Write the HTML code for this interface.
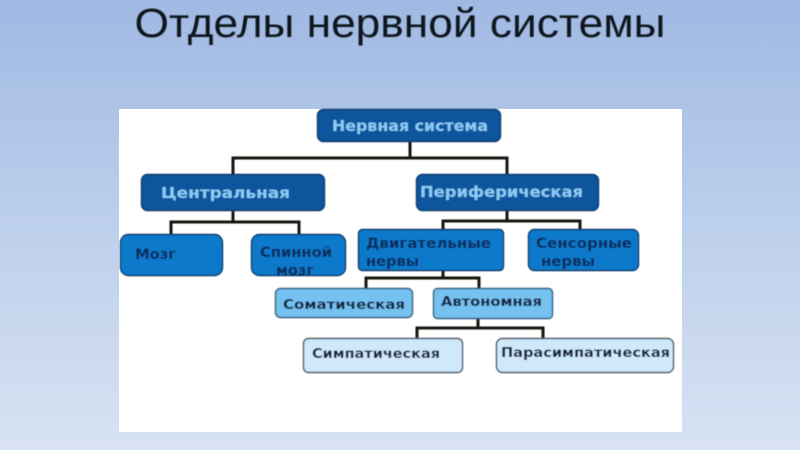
<!DOCTYPE html>
<html lang="ru">
<head>
<meta charset="utf-8">
<style>
html,body{margin:0;padding:0;width:800px;height:450px;overflow:hidden;background:#a4bbe4}
svg{display:block}
text{font-family:"DejaVu Sans","Liberation Sans",sans-serif;font-weight:bold}
</style>
</head>
<body>
<svg width="800" height="450" viewBox="0 0 800 450" xmlns="http://www.w3.org/2000/svg">
<defs>
<linearGradient id="bg" x1="0" y1="0" x2="0" y2="1">
<stop offset="0" stop-color="#a0b9e3"/>
<stop offset="0.5" stop-color="#bccfec"/>
<stop offset="1" stop-color="#d8e2f2"/>
</linearGradient>
<filter id="soft" x="-2%" y="-2%" width="104%" height="104%"><feGaussianBlur stdDeviation="0.55"/></filter>
</defs>
<rect width="800" height="450" fill="url(#bg)"/>
<text x="400" y="37" text-anchor="middle" textLength="531" lengthAdjust="spacingAndGlyphs" filter="url(#soft)" style="font-family:'Liberation Sans',sans-serif;font-weight:normal;font-size:41px" fill="#10131c">Отделы нервной системы</text>
<rect x="119" y="109" width="563" height="323" fill="#fff"/>

<g filter="url(#soft)">
<g fill="none" stroke="#15120f" stroke-width="3">
<path d="M410 142V158M233 174V158H507V174"/>
<path d="M233 211V222M171 234V222H299V234"/>
<path d="M507 211V221M443 229V221H580V229"/>
<path d="M443 271V278M366 288V278H479V288"/>
<path d="M478 319V328M417 338V328H543V338"/>
</g>

<g stroke="#0e3c6e" stroke-width="1.4">
<rect x="317.5" y="109.5" width="183" height="32" rx="6" fill="#0b559c"/>
<rect x="141.5" y="174.5" width="183" height="36" rx="6" fill="#0b559c"/>
<rect x="416.5" y="174.5" width="182" height="36" rx="6" fill="#0b559c"/>
<rect x="120.5" y="234.5" width="102" height="41" rx="8" fill="#0f79cb"/>
<rect x="251.5" y="234.5" width="94" height="41" rx="8" fill="#0f79cb"/>
<rect x="358.5" y="229.5" width="145" height="41" rx="4" fill="#0f79cb"/>
<rect x="528.5" y="229.5" width="110" height="41" rx="6" fill="#0f79cb"/>
</g>
<g stroke="#34617f" stroke-width="1.4">
<rect x="275.5" y="288.5" width="137" height="29" rx="5" fill="#74c1f0"/>
<rect x="433.5" y="288.5" width="119" height="30" rx="4" fill="#74c1f0"/>
</g>
<g stroke="#4a5a66" stroke-width="1.4">
<rect x="303.5" y="338.5" width="159" height="34" rx="5" fill="#cfe8fa"/>
<rect x="496.5" y="338.5" width="177" height="34" rx="6" fill="#cfe8fa"/>
</g>

<g fill="#8accf5">
<text x="410" y="131" text-anchor="middle" font-size="15" textLength="156" lengthAdjust="spacingAndGlyphs">Нервная система</text>
<text x="161" y="198" font-size="15" textLength="129" lengthAdjust="spacingAndGlyphs">Центральная</text>
<text x="420" y="197" font-size="15" textLength="163" lengthAdjust="spacingAndGlyphs">Периферическая</text>
</g>
<g fill="#0a2a5c">
<text x="135" y="259" font-size="14" textLength="41" lengthAdjust="spacingAndGlyphs">Мозг</text>
<text x="260" y="257" font-size="14" textLength="72" lengthAdjust="spacingAndGlyphs">Спинной</text>
<text x="276" y="275" font-size="14" textLength="38" lengthAdjust="spacingAndGlyphs">мозг</text>
<text x="366" y="248" font-size="14" textLength="125" lengthAdjust="spacingAndGlyphs">Двигательные</text>
<text x="366" y="266" font-size="14" textLength="53" lengthAdjust="spacingAndGlyphs">нервы</text>
<text x="536" y="248" font-size="14" textLength="96" lengthAdjust="spacingAndGlyphs">Сенсорные</text>
<text x="541" y="266" font-size="14" textLength="54" lengthAdjust="spacingAndGlyphs">нервы</text>
</g>
<g fill="#12243f">
<text x="283" y="309" font-size="13.5" textLength="122" lengthAdjust="spacingAndGlyphs">Соматическая</text>
<text x="441" y="306" font-size="13.5" textLength="101" lengthAdjust="spacingAndGlyphs">Автономная</text>
<text x="312" y="358" font-size="13" textLength="128" lengthAdjust="spacingAndGlyphs">Симпатическая</text>
<text x="501" y="357" font-size="13" textLength="169" lengthAdjust="spacingAndGlyphs">Парасимпатическая</text>
</g>
</g>
</svg>
</body>
</html>
